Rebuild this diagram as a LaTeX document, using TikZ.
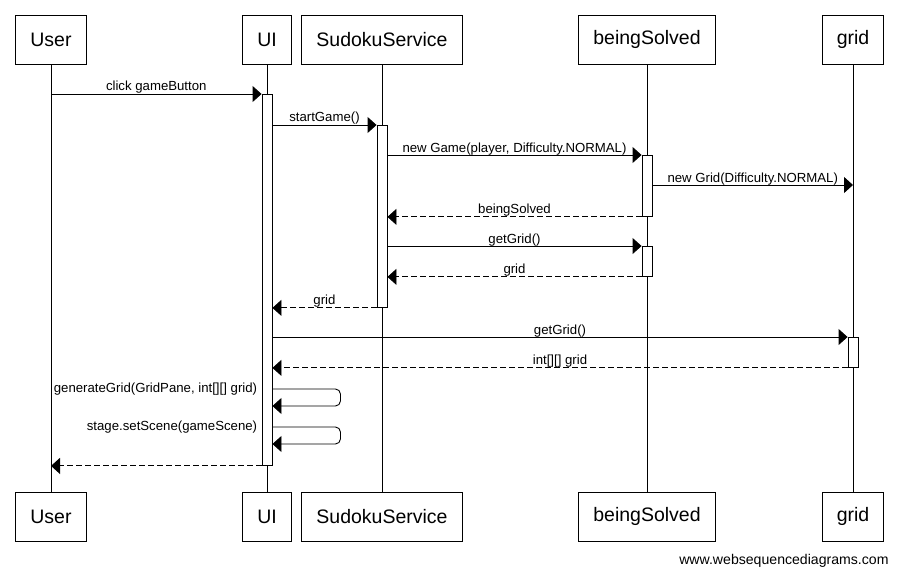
\documentclass[tikz,border=0pt]{standalone}
\usepackage{fontspec}
\setmainfont{Liberation Sans}
\usetikzlibrary{arrows.meta}

\begin{document}
\begin{tikzpicture}[x=1pt, y=-1pt, line width=0.9pt,
  actor/.style={draw, minimum height=49pt, inner xsep=14.5pt, font=\fontsize{19.5}{22}\selectfont},
  actbar/.style={draw, fill=white, minimum width=10pt, inner sep=0pt, anchor=north},
  msg/.style={-{Triangle[length=9pt, width=16pt]}},
  reply/.style={msg, dash pattern=on 6pt off 3pt},
  msgtext/.style={font=\fontsize{13.2}{15}\selectfont, anchor=base, inner sep=0pt, yshift=3pt},
  selftext/.style={font=\fontsize{13.2}{15}\selectfont, anchor=east, inner sep=0pt}]
  \useasboundingbox (0,0) rectangle (899,575);

  % Participants at the top and at the bottom
  \node[actor] (userTop) at (51,39.5) {User};
  \node[actor] (uiTop) at (267,39.5) {UI};
  \node[actor] (ssTop) at (382,39.5) {SudokuService};
  \node[actor] (bsTop) at (647,39.5) {beingSolved};
  \node[actor] (gridTop) at (853,39.5) {grid};
  \node[actor] (userBot) at (51,516.5) {User};
  \node[actor] (uiBot) at (267,516.5) {UI};
  \node[actor] (ssBot) at (382,516.5) {SudokuService};
  \node[actor] (bsBot) at (647,516.5) {beingSolved};
  \node[actor] (gridBot) at (853,516.5) {grid};

  % Lifelines
  \foreach \p in {user,ui,ss,bs,grid}
    \draw[line width=0.8pt] (\p Top) -- (\p Bot);

  % Activation bars
  \node[actbar, minimum height=371pt] (uiAct) at (267,94) {};
  \node[actbar, minimum height=182pt] (ssAct) at (382,125) {};
  \node[actbar, minimum height=61pt] (bsAct) at (647,155) {};
  \node[actbar, minimum height=30pt] (bsAct2) at (647,246) {};
  \node[actbar, minimum height=30pt] (gridAct) at (853,337) {};

  % Calls and replies
  \draw[msg] (userTop |- uiAct.north) -- node[msgtext] {click gameButton} (uiAct.north west);
  \draw[msg] (uiAct.east |- ssAct.north) -- node[msgtext] {startGame()} (ssAct.north west);
  \draw[msg] (ssAct.east |- bsAct.north) -- node[msgtext] {new Game(player, Difficulty.NORMAL)} (bsAct.north west);
  \coordinate (newGrid) at (853,185);
  \draw[msg] (bsAct.east |- newGrid) -- node[msgtext] {new Grid(Difficulty.NORMAL)} (newGrid);
  \draw[reply] (bsAct.south west) -- node[msgtext] {beingSolved} (ssAct.east |- bsAct.south);
  \draw[msg] (ssAct.east |- bsAct2.north) -- node[msgtext] {getGrid()} (bsAct2.north west);
  \draw[reply] (bsAct2.south west) -- node[msgtext] {grid} (ssAct.east |- bsAct2.south);
  \draw[reply] (ssAct.south west) -- node[msgtext] {grid} (uiAct.east |- ssAct.south);
  \draw[msg] (uiAct.east |- gridAct.north) -- node[msgtext] {getGrid()} (gridAct.north west);
  \draw[reply] (gridAct.south west) -- node[msgtext] {int[][] grid} (uiAct.east |- gridAct.south);

  % Self calls on the UI
  \coordinate (genCall) at (267,389);
  \coordinate (sceneCall) at (267,427);
  \draw[msg, rounded corners=5pt] (uiAct.east |- genCall) -- ++(68,0) -- ++(0,17) -- ++(-68,0);
  \node[selftext] (genText) at ([xshift=-4pt]uiAct.west |- genCall) {generateGrid(GridPane, int[][] grid)};
  \draw[msg, rounded corners=5pt] (uiAct.east |- sceneCall) -- ++(68,0) -- ++(0,17) -- ++(-68,0);
  \node[selftext] (sceneText) at ([xshift=-4pt]uiAct.west |- sceneCall) {stage.setScene(gameScene)};

  \draw[reply] (uiAct.south west) -- (userTop |- uiAct.south);

  \node[font=\fontsize{14.1}{16}\selectfont, anchor=base east, inner sep=0pt] (site) at (889,564) {www.websequencediagrams.com};
\end{tikzpicture}
\end{document}
